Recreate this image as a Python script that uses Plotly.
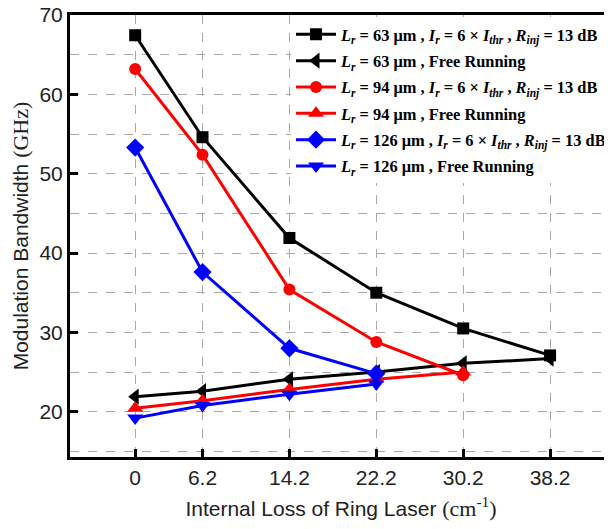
import plotly.graph_objects as go

loss = [0, 6.2, 14.2, 22.2, 30.2, 38.2]
x_ticks = [0, 6.2, 14.2, 22.2, 30.2, 38.2]
x_tick_labels = ["0", "6.2", "14.2", "22.2", "30.2", "38.2"]

bw_63_inj = [67.45, 54.6, 41.9, 35.0, 30.5, 27.1]
bw_63_free = [21.9, 22.6, 24.1, 25.0, 26.1, 26.7]
bw_94_inj = [63.2, 52.4, 35.4, 28.8, 24.6]
bw_94_free = [20.45, 21.4, 22.8, 24.1, 25.0]
bw_126_inj = [53.3, 37.6, 28.0, 24.8]
bw_126_free = [19.2, 20.8, 22.2, 23.5]

inj = ", <i>I<sub>r</sub></i> = 6 × <i>I<sub>thr</sub></i> , <i>R<sub>inj</sub></i> = 13 dB"
names = [
    "<b><i>L<sub>r</sub></i> = 63 μm " + inj + "</b>",
    "<b><i>L<sub>r</sub></i> = 63 μm , Free Running</b>",
    "<b><i>L<sub>r</sub></i> = 94 μm " + inj + "</b>",
    "<b><i>L<sub>r</sub></i> = 94 μm , Free Running</b>",
    "<b><i>L<sub>r</sub></i> = 126 μm " + inj + "</b>",
    "<b><i>L<sub>r</sub></i> = 126 μm , Free Running</b>",
]
series = [bw_63_inj, bw_63_free, bw_94_inj, bw_94_free, bw_126_inj, bw_126_free]
colors = ["#000000", "#000000", "#ff0000", "#ff0000", "#0000ff", "#0000ff"]
symbols = ["square", "triangle-left", "circle", "triangle-up", "diamond", "triangle-down"]
sizes = [12, 14, 12, 14, 14, 14]

fig = go.Figure()
for i, (name, ys, c, s, sz) in enumerate(zip(names, series, colors, symbols, sizes)):
    fig.add_trace(go.Scatter(
        x=loss[:len(ys)], y=ys, name=name, mode="lines+markers",
        legendgroup=f"g{i}",
        line=dict(color=c, width=3),
        marker=dict(symbol=s, size=sz, color=c, line=dict(width=0)),
    ))

grid = dict(showgrid=True, gridcolor="#a8a8a8", gridwidth=1, griddash="dash")
fig.update_layout(
    width=604, height=521,
    margin=dict(l=62, r=0, t=7, b=72),
    paper_bgcolor="white", plot_bgcolor="white",
    font=dict(family="Liberation Sans, Arial, sans-serif", size=21, color="#222"),
    xaxis=dict(
        range=[-6, 43.9], tickvals=x_ticks, ticktext=x_tick_labels,
        showline=True, linecolor="black", linewidth=3, mirror=True,
        ticks="inside", ticklen=8, tickwidth=3, tickcolor="black",
        zeroline=False, ticklabeloverflow="allow", automargin=False,
        title=dict(text="Internal Loss of Ring Laser <span style='font-family:Liberation Serif;font-size:22px'>(cm<sup>-1</sup>)</span>",
                   font=dict(size=21), standoff=14),
        **grid,
    ),
    yaxis=dict(
        range=[14.3, 70.001], tickvals=[20, 30, 40, 50, 60, 70],
        showline=True, linecolor="black", linewidth=3, mirror=False,
        ticks="inside", ticklen=8, tickwidth=3, tickcolor="black",
        zeroline=False, ticklabeloverflow="allow", automargin=False,
        minor=dict(dtick=5, tick0=0, showgrid=True, gridcolor="#a8a8a8", griddash="dash", gridwidth=1),
        title=dict(text="Modulation Bandwidth <span style='font-family:Liberation Serif;font-size:22px'>(GHz)</span>",
                   font=dict(size=21), standoff=6),
        **grid,
    ),
    legend=dict(
        x=1.0, y=0.995, xanchor="right", yanchor="top",
        bgcolor="white", borderwidth=0,
        font=dict(family="Liberation Serif, Times New Roman, serif", size=16.4, color="black"),
        tracegroupgap=2, itemwidth=40,
    ),
)

fig.write_html("out.html")
